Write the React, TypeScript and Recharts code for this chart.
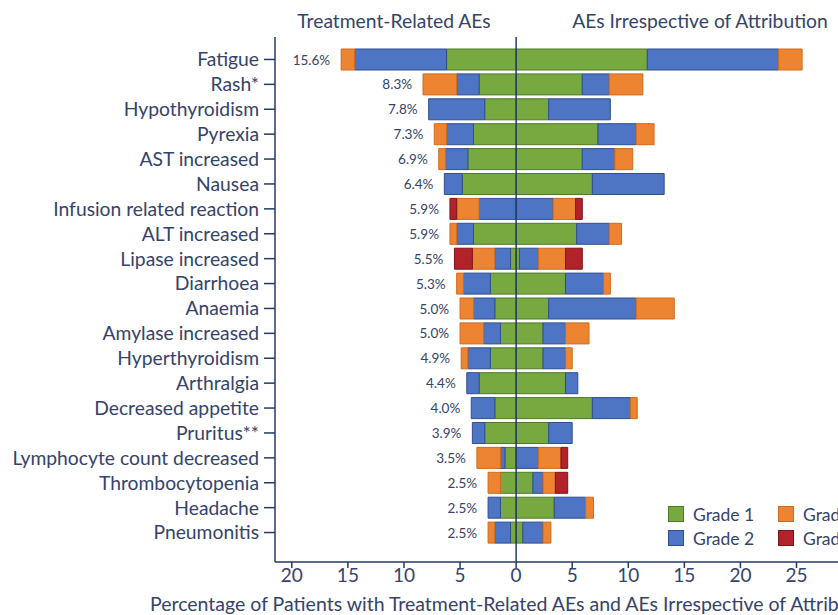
import * as React from "react";
import {
  Bar,
  BarChart,
  LabelList,
  ReferenceLine,
  XAxis,
  YAxis,
} from "recharts";

const categories = [
  "Fatigue",
  "Rash*",
  "Hypothyroidism",
  "Pyrexia",
  "AST increased",
  "Nausea",
  "Infusion related reaction",
  "ALT increased",
  "Lipase increased",
  "Diarrhoea",
  "Anaemia",
  "Amylase increased",
  "Hyperthyroidism",
  "Arthralgia",
  "Decreased appetite",
  "Pruritus**",
  "Lymphocyte count decreased",
  "Thrombocytopenia",
  "Headache",
  "Pneumonitis",
];

const trLabels = [
  "15.6%", "8.3%", "7.8%", "7.3%", "6.9%", "6.4%", "5.9%", "5.9%", "5.5%", "5.3%",
  "5.0%", "5.0%", "4.9%", "4.4%", "4.0%", "3.9%", "3.5%", "2.5%", "2.5%", "2.5%",
];

// treatment-related AEs (drawn to the left)
const trGrade1 = [6.2, 3.3, 2.8, 3.8, 4.3, 4.8, 0, 3.8, 0.5, 2.3, 1.9, 1.4, 2.3, 3.3, 1.9, 2.8, 1.0, 1.4, 1.4, 0.5];
const trGrade2 = [8.2, 2.0, 5.0, 2.4, 2.0, 1.6, 3.3, 1.5, 1.4, 2.4, 1.9, 1.5, 2.0, 1.1, 2.1, 1.1, 0.4, 0, 1.1, 1.4];
const trGrade3 = [1.2, 3.0, 0, 1.1, 0.6, 0, 2.0, 0.6, 2.0, 0.6, 1.2, 2.1, 0.6, 0, 0, 0, 2.1, 1.1, 0, 0.6];
const trGrade4 = [0, 0, 0, 0, 0, 0, 0.6, 0, 1.6, 0, 0, 0, 0, 0, 0, 0, 0, 0, 0, 0];

// AEs irrespective of attribution (drawn to the right)
const aiGrade1 = [11.7, 5.9, 2.9, 7.3, 5.9, 6.8, 0, 5.4, 0.3, 4.4, 2.9, 2.4, 2.4, 4.4, 6.8, 2.9, 0, 1.5, 3.4, 0.6];
const aiGrade2 = [11.7, 2.4, 5.5, 3.4, 2.9, 6.4, 3.3, 2.9, 1.7, 3.4, 7.8, 2.0, 2.0, 1.1, 3.4, 2.1, 2.0, 0.9, 2.8, 1.8];
const aiGrade3 = [2.1, 3.0, 0, 1.6, 1.6, 0, 2.0, 1.1, 2.4, 0.6, 3.4, 2.1, 0.6, 0, 0.6, 0, 2.0, 1.1, 0.7, 0.7];
const aiGrade4 = [0, 0, 0, 0, 0, 0, 0.6, 0, 1.5, 0, 0, 0, 0, 0, 0, 0, 0.6, 1.1, 0, 0];

const xTicks = [-20, -15, -10, -5, 0, 5, 10, 15, 20, 25];

// tiny invisible segment at the outer end of each left stack, only to anchor the % label
const LABEL_ANCHOR = -1e-4;

const data = categories.map((name, i) => ({
  name,
  trLabel: trLabels[i],
  tr1: -trGrade1[i],
  tr2: -trGrade2[i],
  tr3: -trGrade3[i],
  tr4: -trGrade4[i],
  trEnd: LABEL_ANCHOR,
  ai1: aiGrade1[i],
  ai2: aiGrade2[i],
  ai3: aiGrade3[i],
  ai4: aiGrade4[i],
}));

const FONT = "Lato, 'Open Sans', sans-serif";
const TEXT = "#34436a";
const AXIS = "#253a66";

const GREEN = "#78a940";
const BLUE = "#4e74c4";
const ORANGE = "#ec8432";
const RED = "#b2222a";

const grades = [
  { label: "Grade 1", fill: GREEN, stroke: "#4f7a2a" },
  { label: "Grade 2", fill: BLUE, stroke: "#2f4f8f" },
  { label: "Grade 3", fill: ORANGE, stroke: "#d06a1c" },
  { label: "Grade 4", fill: RED, stroke: "#7e1418" },
];

function TotalLabel(props: any) {
  const { x, width, y, height, value } = props;
  const left = Math.min(x, x + (width || 0));
  return (
    <text
      x={left - 11}
      y={y + height / 2}
      textAnchor="end"
      dominantBaseline="central"
      fontSize={13.5}
      fill={TEXT}
      fontFamily={FONT}
    >
      {value}
    </text>
  );
}

function GradeLegend() {
  const cell = (g: (typeof grades)[number]) => (
    <div style={{ display: "flex", alignItems: "center", height: 24 }}>
      <span
        style={{
          width: 16,
          height: 16,
          background: g.fill,
          border: `1.5px solid ${g.stroke}`,
          marginRight: 9,
          boxSizing: "border-box",
          flex: "none",
        }}
      />
      <span style={{ fontSize: 17.5, color: TEXT, whiteSpace: "nowrap" }}>{g.label}</span>
    </div>
  );
  return (
    <div
      style={{
        position: "absolute",
        left: 668,
        top: 502,
        display: "grid",
        gridTemplateColumns: "110px 110px",
        fontFamily: FONT,
      }}
    >
      {cell(grades[0])}
      {cell(grades[2])}
      {cell(grades[1])}
      {cell(grades[3])}
    </div>
  );
}

export default function App() {
  const series = [
    ["tr1", 0],
    ["tr2", 1],
    ["tr3", 2],
    ["tr4", 3],
    ["ai1", 0],
    ["ai2", 1],
    ["ai3", 2],
    ["ai4", 3],
  ] as const;

  const titleStyle: React.CSSProperties = {
    position: "absolute",
    top: 9,
    transform: "translateX(-50%)",
    fontSize: 19.3,
    color: TEXT,
    whiteSpace: "nowrap",
  };

  return (
    <div
      style={{
        position: "absolute",
        left: 0,
        top: 0,
        width: 838,
        height: 615,
        overflow: "hidden",
        background: "#fff",
        fontFamily: FONT,
      }}
    >
      <div style={{ ...titleStyle, left: 394 }}>Treatment-Related AEs</div>
      <div style={{ ...titleStyle, left: 700 }}>AEs Irrespective of Attribution</div>

      <BarChart
        width={838}
        height={615}
        data={data}
        layout="vertical"
        stackOffset="sign"
        barSize={21}
        margin={{ top: 37, right: 0, bottom: 23, left: 0 }}
      >
        <XAxis
          type="number"
          domain={[-21.5, 28.7]}
          ticks={xTicks}
          allowDataOverflow
          tickFormatter={(v: number) => String(Math.abs(v))}
          stroke={AXIS}
          strokeWidth={1.5}
          tickSize={6}
          tickMargin={1}
          height={30}
          tick={{ fill: TEXT, fontSize: 19, fontFamily: FONT }}
        />
        <YAxis
          type="category"
          dataKey="name"
          width={275}
          padding={{ top: 10, bottom: 17 }}
          stroke={AXIS}
          strokeWidth={1.5}
          tickSize={11}
          tickMargin={5}
          interval={0}
          tick={{ fill: TEXT, fontSize: 19.3, fontFamily: FONT }}
        />
        {series.map(([key, g]) => (
          <Bar
            key={key}
            dataKey={key}
            stackId="ae"
            fill={grades[g].fill}
            stroke={grades[g].stroke}
            strokeWidth={1}
            isAnimationActive={false}
          />
        ))}
        <Bar dataKey="trEnd" stackId="ae" fill="none" stroke="none" isAnimationActive={false}>
          <LabelList dataKey="trLabel" content={TotalLabel} />
        </Bar>
        <ReferenceLine x={0} stroke={AXIS} strokeWidth={1.5} />
      </BarChart>

      <GradeLegend />

      <div style={{ position: "absolute", left: 150, top: 592, fontSize: 19.5, color: TEXT, whiteSpace: "nowrap" }}>
        Percentage of Patients with Treatment-Related AEs and AEs Irrespective of Attribution
      </div>
    </div>
  );
}
